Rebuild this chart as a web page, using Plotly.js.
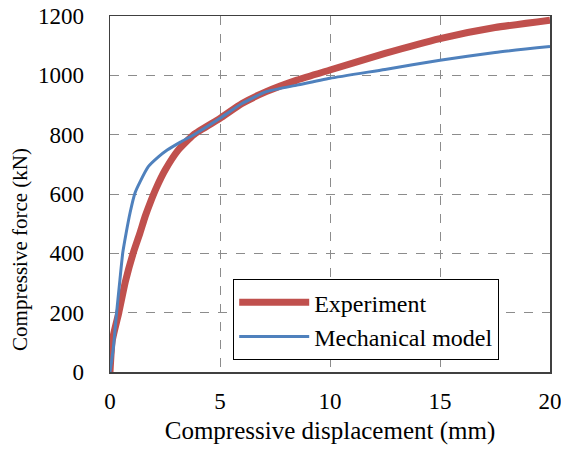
<!DOCTYPE html>
<html>
<head>
<meta charset="utf-8">
<script src="https://cdn.plot.ly/plotly-3.0.1.min.js"></script>
<style>html,body{margin:0;padding:0;background:#fff;}#chart{width:561px;height:455px;}</style>
</head>
<body>
<div id="chart"></div>
<script>
var expDisp  = [0, 0.1, 0.4, 0.7, 1.06, 1.36, 1.6, 1.85, 2.1, 2.5, 3.1, 3.8, 5, 6, 7.1, 8.5, 10, 12.5, 15, 17.5, 20];
var expForce = [0, 105, 200, 305, 402, 468, 525, 575, 620, 680, 748, 800, 855, 905, 945, 984, 1018, 1074, 1124, 1161, 1186];
var modDisp  = [0, 0.15, 0.3, 0.45, 0.58, 0.73, 0.91, 1.14, 1.36, 1.74, 2.2, 2.6, 3.2, 3.8, 5, 6, 7.1, 8.5, 10, 12.5, 15, 17.5, 20];
var modForce = [0, 80, 200, 310, 402, 467, 536, 604, 640, 692, 725, 748, 775, 799, 855, 905, 945, 967, 990, 1020, 1051, 1077, 1097];
var seriesNames = ["Experiment", "Mechanical model"];
var xTickVals = [0, 5, 10, 15, 20];
var yTickVals = [0, 200, 400, 600, 800, 1000, 1200];
var xTitle = "Compressive displacement (mm)";
var yTitle = "Compressive force (kN)";

var fam = "Liberation Serif, Times New Roman, serif";
function f(s) { return {family: fam, size: s, color: "#000"}; }
var traces = [
  {x: expDisp, y: expForce, name: seriesNames[0], mode: "lines",
   line: {color: "#C0504D", width: 7, shape: "spline", smoothing: 0.5}},
  {x: modDisp, y: modForce, name: seriesNames[1], mode: "lines",
   line: {color: "#4F81BD", width: 3, shape: "spline", smoothing: 0.5}}
];
var layout = {
  width: 561, height: 455,
  margin: {l: 110, r: 11, t: 16, b: 83},
  paper_bgcolor: "#fff", plot_bgcolor: "#fff",
  font: f(22),
  showlegend: true,
  legend: {x: 0.28, y: 0.261, xanchor: "left", yanchor: "top",
           bordercolor: "#000", borderwidth: 1, bgcolor: "#fff",
           font: f(24), tracegroupgap: 0, itemwidth: 70},
  xaxis: {range: [0, 20], tickvals: xTickVals, showgrid: true,
          gridcolor: "#8c8c8c", griddash: "dash", gridwidth: 1,
          showline: true, linecolor: "#404040", linewidth: 1.5, mirror: true,
          zeroline: false, ticks: "", tickfont: f(23), ticklabelstandoff: 8,
          ticklabeloverflow: "allow",
          title: {text: xTitle, font: f(25), standoff: 8}},
  yaxis: {range: [0, 1200], tickvals: yTickVals, showgrid: true,
          gridcolor: "#8c8c8c", griddash: "dash", gridwidth: 1,
          showline: true, linecolor: "#404040", linewidth: 1.5, mirror: true,
          zeroline: false, ticks: "", tickfont: f(23), ticklabelstandoff: 20},
  annotations: [
    {text: yTitle, textangle: -90, xref: "paper", yref: "paper",
     x: -0.2045, y: 0.343, xanchor: "center", yanchor: "middle",
     showarrow: false, font: f(21)}
  ]
};
Plotly.newPlot("chart", traces, layout, {displayModeBar: false, staticPlot: true});
</script>
</body>
</html>
